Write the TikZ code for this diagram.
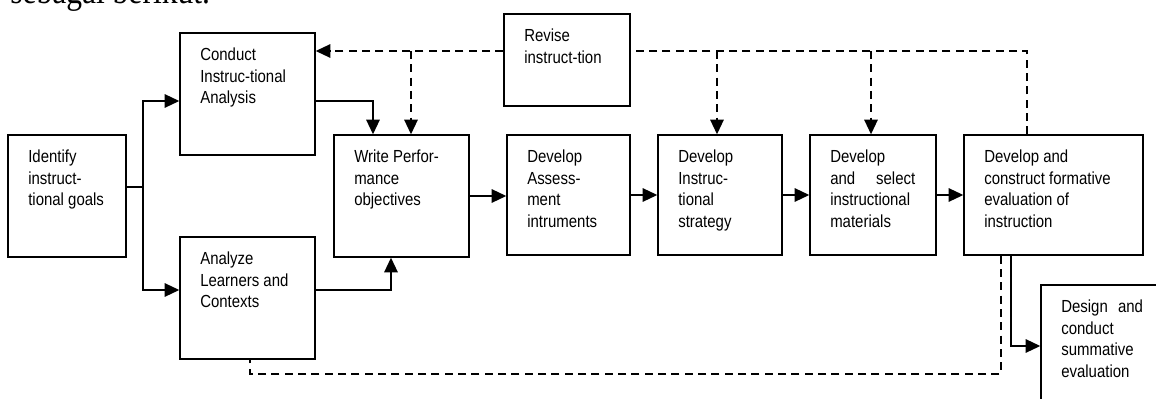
\documentclass[tikz,border=0pt]{standalone}
\usepackage{fontspec}
\setmainfont{Liberation Sans}[FakeStretch=0.857]
\newfontfamily\serifhead{Liberation Serif}[FakeStretch=0.857]
\usetikzlibrary{arrows.meta}
\begin{document}
\begin{tikzpicture}[x=0.75pt,y=-0.75pt,
  box/.style={draw,line width=1pt,inner sep=0pt,rectangle},
  lbl/.style={anchor=north west,inner sep=0pt,align=left,font=\fontsize{13.1pt}{16.1pt}\selectfont},
  conn/.style={line width=1.4pt},
  arr/.style={conn,-{Triangle[length=11pt,width=10pt]}},
  dline/.style={conn,dash pattern=on 6pt off 4pt},
  darr/.style={dline,-{Triangle[length=11pt,width=10pt]}}]
\useasboundingbox (0,0) rectangle (1156,399);
\clip (0,0) rectangle (1156,399);

% heading fragment
\node[anchor=base west,inner sep=0pt,font=\serifhead\fontsize{27.6pt}{32pt}\selectfont] (head) at (10,4) {sebagai berikut.};

% boxes
\node[box,minimum width=88.5pt,minimum height=91.5pt] (idg) at (67,196) {};
\node[box,minimum width=101.25pt,minimum height=91.5pt] (cia) at (247.5,94) {};
\node[box,minimum width=101.25pt,minimum height=91.5pt] (alc) at (247.5,298) {};
\node[box,minimum width=101.25pt,minimum height=91.5pt] (wpo) at (401.5,196) {};
\node[box,minimum width=94.5pt,minimum height=69pt] (rev) at (567,60) {};
\node[box,minimum width=92.25pt,minimum height=90pt] (dai) at (568.5,195) {};
\node[box,minimum width=93pt,minimum height=90pt] (dis) at (720,195) {};
\node[box,minimum width=94.5pt,minimum height=90pt] (dsm) at (873,195) {};
\node[box,minimum width=134.25pt,minimum height=90pt] (dfe) at (1053.5,195) {};
\node[box,minimum width=96.75pt,minimum height=101.25pt] (dse) at (1105.5,352.5) {};

% texts
\node[lbl] (idg-t) at (28,150) {Identify\\instruct-\\tional goals};
\node[lbl] (cia-t) at (200,48) {Conduct\\Instruc-tional\\Analysis};
\node[lbl] (alc-t) at (200,252) {Analyze\\Learners and\\Contexts};
\node[lbl] (wpo-t) at (354,150) {Write Perfor-\\mance\\objectives};
\node[lbl] (rev-t) at (524,29) {Revise\\instruct-tion};
\node[lbl] (dai-t) at (527,150) {Develop\\Assess-\\ment\\intruments};
\node[lbl] (dis-t) at (678,150) {Develop\\Instruc-\\tional\\strategy};
\node[lbl] (dsm-t) at (830,150) {Develop\\\makebox[63.75pt][l]{and\hfill select}\\instructional\\materials};
\node[lbl] (dfe-t) at (984,150) {Develop and\\construct formative\\evaluation of\\instruction};
\node[lbl] (dse-t) at (1061,300) {\makebox[61.3pt][l]{Design\hfill and}\\conduct\\summative\\evaluation};

% solid connectors
\coordinate (j1) at (143,187);
\coordinate (ja) at (143,101);
\coordinate (jb) at (143,290);
\draw[conn] (idg.east |- j1) -- (j1);
\draw[arr] (j1) -- (ja) -- (ja -| cia.west);
\draw[arr] (j1) -- (jb) -- (jb -| alc.west);
\coordinate (k1) at (373,101);
\draw[arr] (k1 -| cia.east) -- (k1) -- (k1 |- wpo.north);
\coordinate (k2) at (391,290);
\draw[arr] (k2 -| alc.east) -- (k2) -- (k2 |- wpo.south);
\draw[arr] (wpo.east) -- (wpo.east -| dai.west);
\draw[arr] (dai.east) -- (dai.east -| dis.west);
\draw[arr] (dis.east) -- (dis.east -| dsm.west);
\draw[arr] (dsm.east) -- (dsm.east -| dfe.west);
\coordinate (s1) at (1011,346);
\draw[arr] (s1 |- dfe.south) -- (s1) -- (s1 -| dse.west);

% dashed feedback
\coordinate (fb) at (1027,51);
\draw[dline] (fb |- dfe.north) -- (fb) -- (fb -| rev.east);
\draw[darr] (rev.west |- fb) -- (fb -| cia.east);
\coordinate (b1) at (411,51);
\coordinate (b2) at (717,51);
\coordinate (b3) at (871,51);
\draw[darr] (b1) -- (b1 |- wpo.north);
\draw[darr] (b2) -- (b2 |- dis.north);
\draw[darr] (b3) -- (b3 |- dsm.north);
\coordinate (d1) at (1001,374);
\coordinate (d2) at (250,374);
\draw[dline] (d1 |- dfe.south) -- (d1) -- (d2) -- (d2 |- alc.south);
\end{tikzpicture}
\end{document}
